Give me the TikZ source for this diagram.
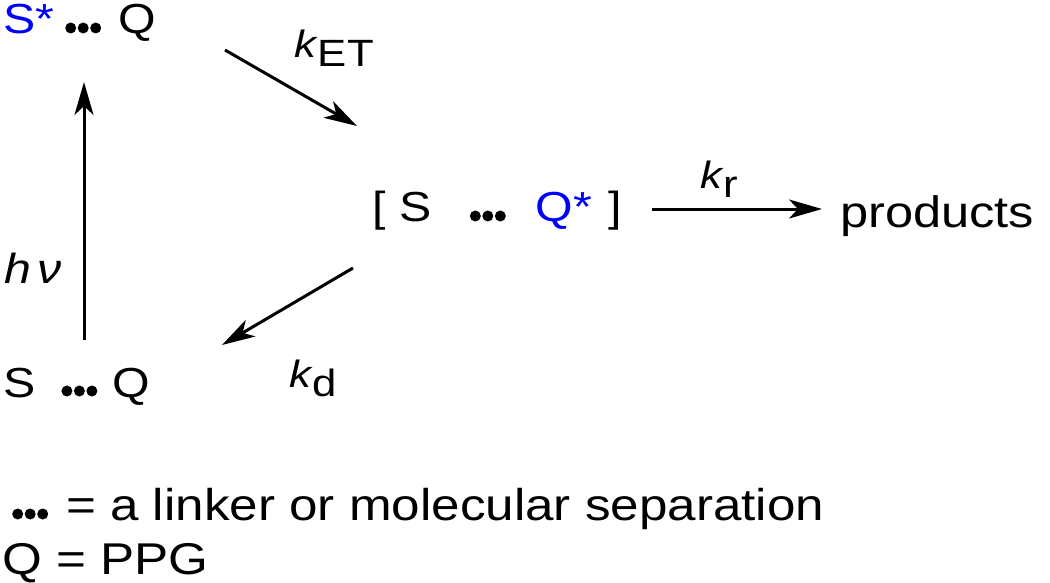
\documentclass[tikz,border=0pt]{standalone}
\usepackage{fontspec}
\setmainfont{Liberation Sans}[FakeStretch=1.15]
\usetikzlibrary{arrows.meta}
\definecolor{sblue}{RGB}{0,0,255}
\newcommand\ddd{\tikz[baseline=0pt]{\fill (5.5pt,6pt) circle[radius=5.5pt] (18pt,6pt) circle[radius=5.5pt] (30.5pt,6pt) circle[radius=5.5pt];}}
\begin{document}
\begin{tikzpicture}[x=1pt,y=-1pt,
  txt/.style={inner sep=0pt,anchor=base west,font=\fontsize{42}{47}\selectfont},
  lbl/.style={inner sep=0pt,anchor=base west,font=\fontsize{38}{43}\selectfont},
  leg/.style={inner sep=0pt,anchor=base west,font=\fontsize{44.5}{49}\selectfont},
  rxn/.style={line width=3pt,-{Stealth[length=33pt,width=19pt,inset=9pt]}}]
\useasboundingbox (0,0) rectangle (1050,583);
% species
\node[txt] (top) at (3,34) {\textcolor{sblue}{S*}\hspace{11pt}\ddd\hspace{17pt}Q};
\node[txt] (bot) at (3,397) {S\hspace{26pt}\ddd\hspace{15pt}Q};
\node[txt] (mid) at (372,222) {[\hspace{14pt}S\hspace{38pt}\ddd\hspace{30pt}\textcolor{sblue}{Q*}\hspace{16pt}]};
\node[txt,font=\fontsize{44}{49}\selectfont] (prod) at (840,227) {products};
% rate labels
\node[lbl] (ket) at (294,58) {\textit{k}\raisebox{-9pt}{ET}};
\node[lbl] (kr) at (700,189) {\textit{k}\raisebox{-9pt}{r}};
\node[lbl] (kd) at (289,387) {\textit{k}\raisebox{-9pt}{d}};
\node[txt] (hv) at (4,283) {\textit{h}\hspace{6pt}\textit{ν}};
% arrow ends
\coordinate (v1) at (84,340);
\coordinate (v2) at (84,82);
\coordinate (e1) at (225,50);
\coordinate (e2) at (357,126);
\coordinate (r1) at (652,209);
\coordinate (r2) at (822,209);
\coordinate (d1) at (353,268);
\coordinate (d2) at (222,345);
\draw[rxn] (v1) -- (v2);
\draw[rxn] (e1) -- (e2);
\draw[rxn] (r1) -- (r2);
\draw[rxn] (d1) -- (d2);
% legend
\node[leg] (leg1) at (12,520) {\ddd\hspace{18pt}= a linker or molecular separation};
\node[leg] (leg2) at (2,574) {Q = PPG};
\end{tikzpicture}
\end{document}
